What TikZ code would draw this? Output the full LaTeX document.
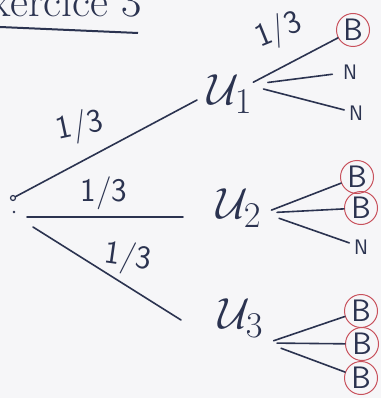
\documentclass[tikz,border=0pt]{standalone}
\usetikzlibrary{calc}
\definecolor{ink}{HTML}{2B3350}
\definecolor{redink}{HTML}{C8515C}
\definecolor{paper}{HTML}{F6F6F8}
\begin{document}
\begin{tikzpicture}[x=1pt,y=-1pt,line width=1.6pt,draw=ink,text=ink,
  unode/.style={inner sep=1pt,font=\Huge,scale=1.75},
  bnode/.style={circle,draw=redink,line width=1pt,inner sep=0pt,minimum size=33pt,
    font=\sffamily\fontsize{31}{33}\selectfont},
  nnode/.style={inner sep=4pt,font=\sffamily\fontsize{21}{23}\selectfont},
  prob/.style={font=\sffamily\fontsize{33}{35}\selectfont,inner sep=1pt},
  branch/.style={line cap=round}]
\fill[paper] (0,0) rectangle (381,398);
\useasboundingbox (0,0) rectangle (381,398);
% title (cut at the top edge)
\node[anchor=base east,font=\fontsize{44}{46}\selectfont] (title) at (146,17) {Exercice 3};
\draw[line width=2pt] (0,27) -- (138,33);
% root
\node[circle,draw,line width=1.2pt,inner sep=0pt,minimum size=5pt] (root) at (13,198) {};
\fill[ink] (14,212) circle (1.4pt);
% level 1
\node[unode] (U1) at (230,94) {$\mathcal{U}_1$};
\node[unode] (U2) at (239,208) {$\mathcal{U}_2$};
\node[unode] (U3) at (241,318) {$\mathcal{U}_3$};
\draw[branch] (root) -- (197,100);
\draw[branch] ($(root)+(14,19)$) -- (183,217);
\draw[branch] ($(root)+(20,29)$) -- (181,320);
\node[prob,rotate=12] (p1) at (80,127) {1/3};
\node[prob] (p2) at (104,193) {1/3};
\node[prob,rotate=-8] (p3) at (128,258) {1/3};
% fan origins
\coordinate (f1) at (248,85);
\coordinate (f2) at (264,213);
\coordinate (f3) at (267,343);
% leaves of U1
\node[bnode] (b11) at (353,30) {B};
\node[nnode] (n12) at (350,72) {N};
\node[nnode] (n13) at (356,113) {N};
\draw[branch,shorten <=6pt] (f1) -- (b11);
\draw[branch,shorten <=20pt,shorten >=6pt] (f1) -- (n12);
\draw[branch,shorten <=16pt] (f1) -- (n13);
\node[prob,rotate=22] (p4) at (279,31) {1/3};
% leaves of U2
\node[bnode] (b21) at (357,177) {B};
\node[bnode] (b22) at (361,208) {B};
\node[nnode] (n23) at (361,247) {N};
\draw[branch,shorten <=8pt] (f2) -- (b21);
\draw[branch,shorten <=13pt] (f2) -- (b22);
\draw[branch,shorten <=16pt] (f2) -- (n23);
% leaves of U3
\node[bnode] (b31) at (361,311) {B};
\node[bnode] (b32) at (362,344) {B};
\node[bnode] (b33) at (361,378) {B};
\draw[branch,shorten <=7pt] (f3) -- (b31);
\draw[branch,shorten <=10pt] (f3) -- (b32);
\draw[branch,shorten <=15pt] (f3) -- (b33);
\end{tikzpicture}
\end{document}
